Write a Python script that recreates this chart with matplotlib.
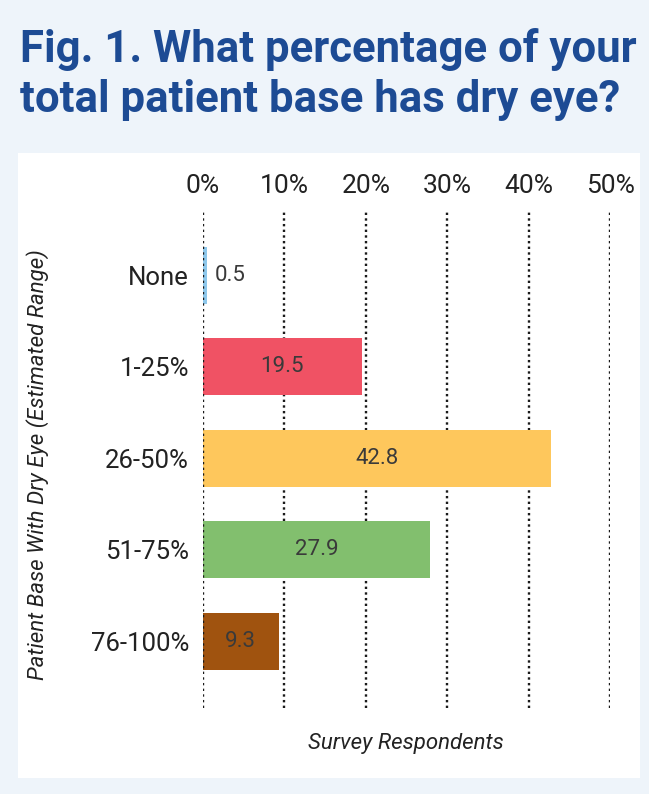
import matplotlib
matplotlib.use('Agg')
import matplotlib.pyplot as plt
from matplotlib.patches import Rectangle

categories = ['None', '1-25%', '26-50%', '51-75%', '76-100%']
values = [0.5, 19.5, 42.8, 27.9, 9.3]
bar_colors = ['#8ec8ec', '#f05264', '#fec75c', '#82bf6e', '#a0530f']
xticks = [0, 10, 20, 30, 40, 50]
xtick_labels = ['0%', '10%', '20%', '30%', '40%', '50%']

W, H = 649, 794
fig = plt.figure(figsize=(W / 100, H / 100), dpi=100)
fig.patch.set_facecolor('#eef4fa')

# white panel
fig.patches.append(Rectangle((18 / W, 1 - 778 / H), 622 / W, 625 / H,
                             transform=fig.transFigure, facecolor='white',
                             edgecolor='none', zorder=-5))

title_font = ['Roboto', 'DejaVu Sans']
fig.text(20 / W, 1 - 62 / H, 'Fig. 1. What percentage of your',
         family=title_font, weight='bold', fontsize=31.5, color='#1d4b94',
         ha='left', va='baseline')
fig.text(20 / W, 1 - 112 / H, 'total patient base has dry eye?',
         family=title_font, weight='bold', fontsize=31.5, color='#1d4b94',
         ha='left', va='baseline')

ax = fig.add_axes([203 / W, 1 - 708 / H, 407 / W, 496 / H])
ax.set_facecolor('none')
ypos = range(len(categories))
ax.barh(ypos, values, height=0.62, color=bar_colors, zorder=2)
ax.set_xlim(0, 50)
ax.set_ylim(4.73, -0.69)

for x in xticks:
    ax.axvline(x, color='#1a1a1a', linestyle=(0, (1, 1.4)), linewidth=1.7,
               zorder=3 if x == 0 else 1)

ax.xaxis.tick_top()
ax.set_xticks(xticks)
ax.set_xticklabels(xtick_labels, family='Roboto', fontsize=19, color='#222222')
ax.set_yticks(list(ypos))
ax.set_yticklabels(categories, family='Roboto', fontsize=18.5, color='#222222')
ax.tick_params(axis='y', length=0, pad=10)
ax.tick_params(axis='x', length=0, pad=10)
for s in ax.spines.values():
    s.set_visible(False)

for i, v in enumerate(values):
    if v < 3:
        ax.text(v + 1.0, i, f'{v}', family='Roboto', fontsize=16,
                color='#3a3a3a', ha='left', va='center', zorder=4)
    else:
        ax.text(v / 2, i, f'{v}', family='Roboto', fontsize=16,
                color='#3a3a3a', ha='center', va='center', zorder=4)

fig.text(406 / W, 1 - 744 / H, 'Survey Respondents', family='Roboto',
         style='italic', fontsize=16, color='#222222', ha='center', va='center')
fig.text(38 / W, 1 - 465 / H, 'Patient Base With Dry Eye (Estimated Range)',
         family='Roboto', style='italic', fontsize=16, color='#222222',
         rotation=90, ha='center', va='center')

fig.savefig('out.png', dpi=100, facecolor=fig.get_facecolor())
